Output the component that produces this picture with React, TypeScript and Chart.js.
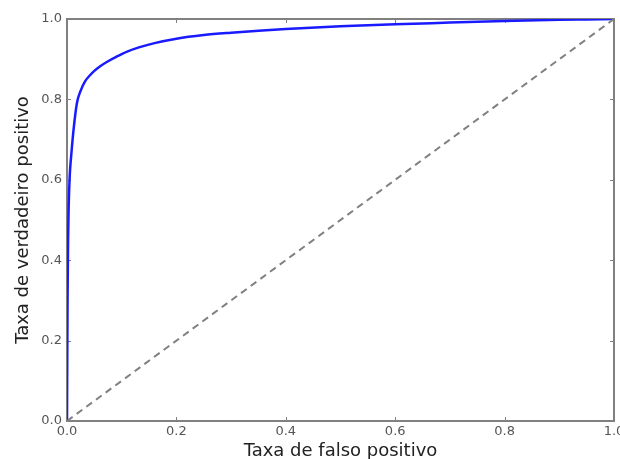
import React, { useEffect, useRef } from "react";
import { Chart, registerables } from "chart.js";

Chart.register(...registerables);

const fpr = [0, 0.001, 0.002, 0.003, 0.005, 0.008, 0.012, 0.018, 0.025, 0.033, 0.042, 0.05, 0.06, 0.075, 0.09, 0.11, 0.133, 0.16, 0.2, 0.25, 0.3, 0.35, 0.4, 0.5, 0.6, 0.7, 0.8, 0.9, 0.95, 1];
const tpr = [0, 0.3, 0.45, 0.53, 0.61, 0.665, 0.725, 0.79, 0.822, 0.845, 0.86, 0.871, 0.882, 0.895, 0.906, 0.919, 0.93, 0.94, 0.951, 0.96, 0.966, 0.971, 0.975, 0.982, 0.987, 0.991, 0.995, 0.998, 0.999, 1];
const diagX = [0, 1];
const diagY = [0, 1];
const tickValues = [0, 0.2, 0.4, 0.6, 0.8, 1.0];
const xTitle = "Taxa de falso positivo";
const yTitle = "Taxa de verdadeiro positivo";

const FONT = "'DejaVu Sans', sans-serif";

const framePlugin = {
  id: "frame",
  beforeDatasetsDraw(chart: any) {
    const { ctx, chartArea: a, scales } = chart;
    ctx.save();
    ctx.strokeStyle = "#808080";
    ctx.lineWidth = 1;
    const len = 4;
    ctx.beginPath();
    for (const v of tickValues) {
      const x = Math.round(scales.x.getPixelForValue(v)) + 0.5;
      ctx.moveTo(x, a.bottom);
      ctx.lineTo(x, a.bottom - len);
      ctx.moveTo(x, a.top);
      ctx.lineTo(x, a.top + len);
      const y = Math.round(scales.y.getPixelForValue(v)) + 0.5;
      ctx.moveTo(a.left, y);
      ctx.lineTo(a.left + len, y);
      ctx.moveTo(a.right, y);
      ctx.lineTo(a.right - len, y);
    }
    ctx.stroke();
    ctx.lineWidth = 2;
    ctx.strokeRect(a.left, a.top, a.right - a.left, a.bottom - a.top);
    ctx.restore();
  },
};

export default function App() {
  const ref = useRef<HTMLCanvasElement>(null);
  useEffect(() => {
    const chart = new Chart(ref.current!, {
      type: "line",
      data: {
        datasets: [
          {
            data: diagX.map((x, i) => ({ x, y: diagY[i] })),
            borderColor: "#808080",
            borderWidth: 2,
            borderDash: [7, 5],
            pointRadius: 0,
            fill: false,
          },
          {
            data: fpr.map((x, i) => ({ x, y: tpr[i] })),
            borderColor: "#1a1aff",
            borderWidth: 2.5,
            pointRadius: 0,
            cubicInterpolationMode: "monotone",
            fill: false,
          },
        ],
      },
      plugins: [framePlugin],
      options: {
        animation: false,
        responsive: false,
        layout: { padding: { top: 19, right: 6, left: 0, bottom: 0 } },
        plugins: { legend: { display: false }, tooltip: { enabled: false } },
        scales: {
          x: {
            type: "linear",
            min: 0,
            max: 1,
            grid: { display: false, drawTicks: false },
            border: { display: false },
            afterBuildTicks: (s: any) => {
              s.ticks = tickValues.map((v) => ({ value: v }));
            },
            ticks: {
              padding: 3,
              color: "#555",
              font: { family: FONT, size: 13 },
              maxRotation: 0,
              callback: (v: any) => Number(v).toFixed(1),
            },
            title: {
              display: true,
              text: xTitle,
              color: "#222",
              font: { family: FONT, size: 18, lineHeight: 1 },
              padding: { top: 0, bottom: -1 },
            },
            afterFit: (s: any) => {
              s.height = 38;
              s.paddingLeft = 0;
              s.paddingRight = 0;
            },
          },
          y: {
            type: "linear",
            min: 0,
            max: 1,
            grid: { display: false, drawTicks: false },
            border: { display: false },
            afterBuildTicks: (s: any) => {
              s.ticks = tickValues.map((v) => ({ value: v }));
            },
            ticks: {
              padding: 5,
              color: "#555",
              font: { family: FONT, size: 13 },
              callback: (v: any) => Number(v).toFixed(1),
            },
            title: {
              display: true,
              text: yTitle,
              color: "#222",
              font: { family: FONT, size: 18, lineHeight: 1 },
              padding: { top: 14, bottom: 0 },
            },
            afterFit: (s: any) => {
              s.width = 67;
              s.paddingTop = 0;
              s.paddingBottom = 0;
            },
          },
        },
      },
    } as any);
    return () => chart.destroy();
  }, []);
  return (
    <div style={{ position: "fixed", left: 0, top: 0, width: 620, height: 459, background: "#fff" }}>
      <canvas ref={ref} width={620} height={459} />
    </div>
  );
}
